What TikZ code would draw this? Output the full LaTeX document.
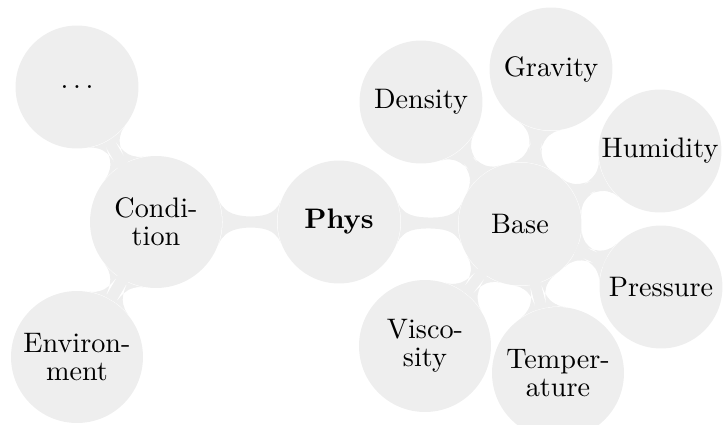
\documentclass[tikz,border=0pt]{standalone}
\usetikzlibrary{mindmap,backgrounds}
\definecolor{cgray}{RGB}{238,238,238}
\begin{document}
\begin{tikzpicture}[x=0.3546pt,y=-0.3546pt,
  cpt/.style={circle,fill=cgray,align=center,inner sep=0pt,minimum size=43.6pt,font=\fontsize{10}{10}\selectfont},
  cpt2/.style={cpt,minimum size=46.8pt},
  bar/.style={circle connection bar switch color=from (cgray) to (cgray)}]
\useasboundingbox (0,0) rectangle (723,424);
\node[cpt] (phys) at (339,222) {\textbf{Phys}};
\node[cpt] (base) at (520,224) {Base};
\node[cpt2] (cond) at (156,222) {Condi-\\tion};
\node[cpt] (dots) at (77,87) {$\ldots$};
\node[cpt2] (env) at (77,357) {Environ-\\ment};
\node[cpt] (dens) at (421,102) {Density};
\node[cpt] (grav) at (551,69) {Gravity};
\node[cpt] (humid) at (660,151) {Humidity};
\node[cpt] (press) at (661,287) {Pressure};
\node[cpt2] (visc) at (425,346) {Visco-\\sity};
\node[cpt2] (temp) at (558,373) {Temper-\\ature};
\begin{pgfonlayer}{background}
\path (phys) to[bar] (base);
\path (cond) to[bar] (phys);
\path (cond) to[bar] (dots);
\path (cond) to[bar] (env);
\path (base) to[bar] (dens);
\path (base) to[bar] (grav);
\path (base) to[bar] (humid);
\path (base) to[bar] (press);
\path (base) to[bar] (visc);
\path (base) to[bar] (temp);
\end{pgfonlayer}
\end{tikzpicture}
\end{document}
